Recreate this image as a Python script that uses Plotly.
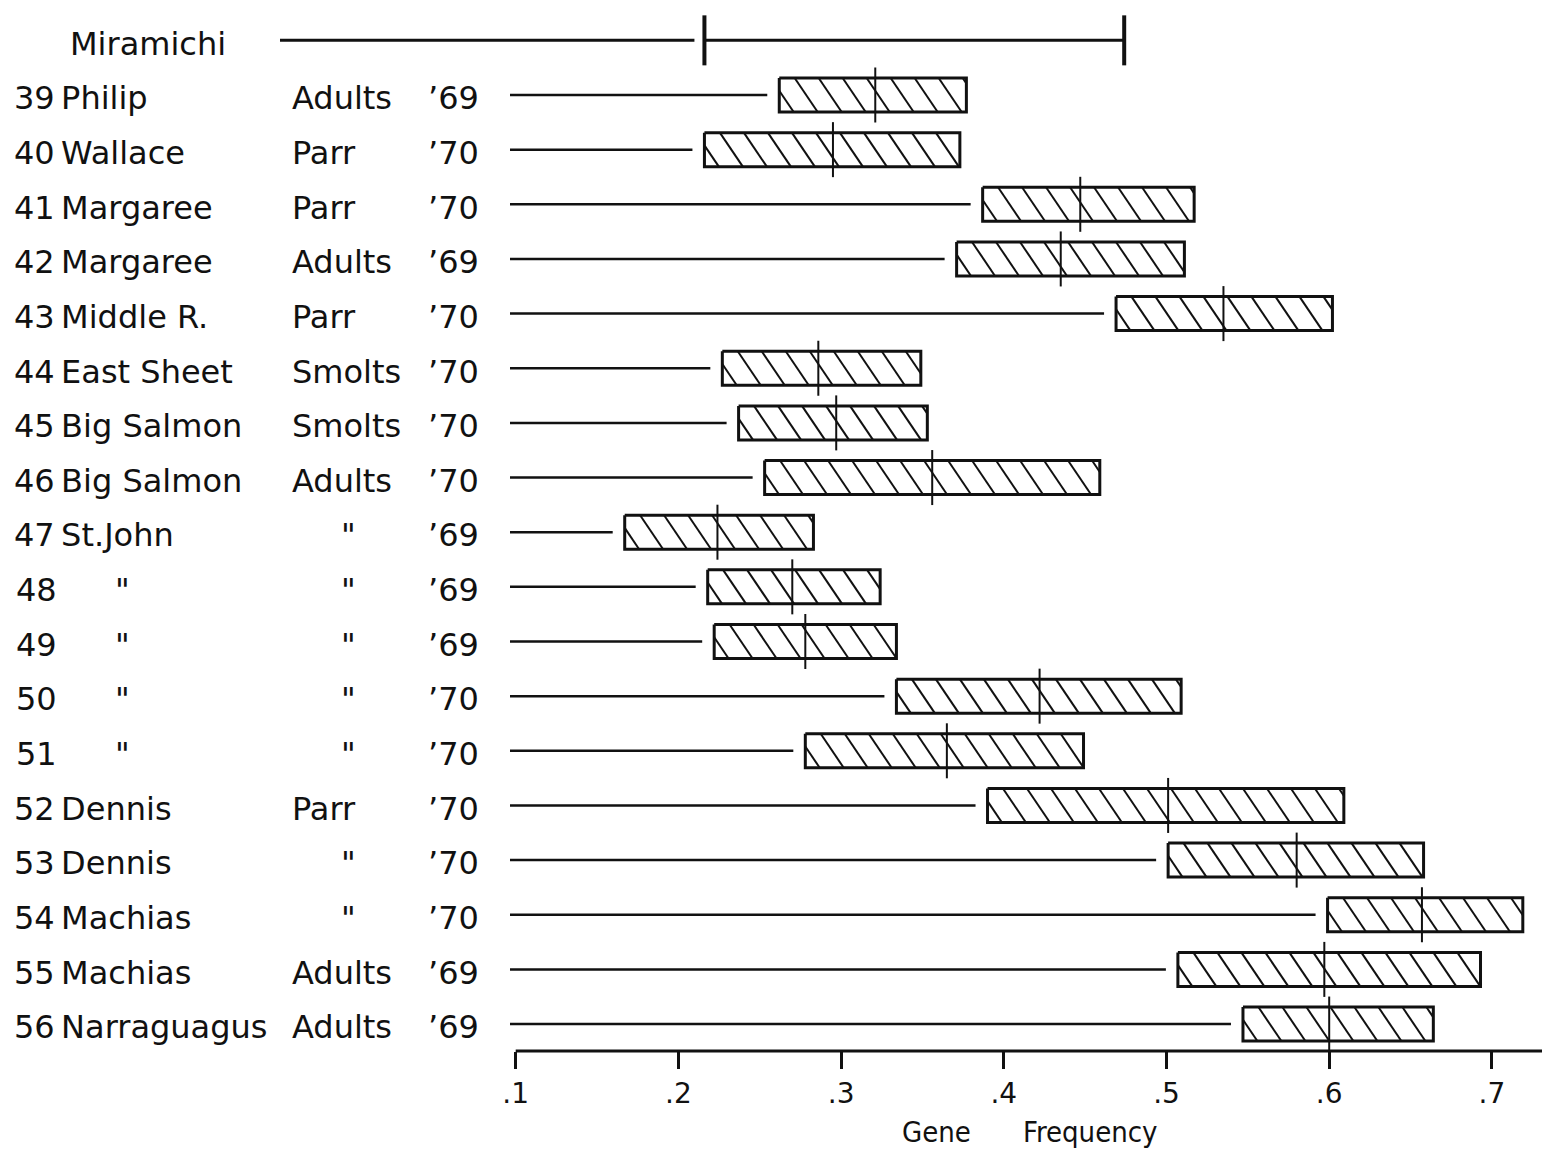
import plotly.graph_objects as go

# ---------------- data ----------------
nums = [39, 40, 41, 42, 43, 44, 45, 46, 47, 48, 49, 50, 51, 52, 53, 54, 55, 56]
names = ["Philip", "Wallace", "Margaree", "Margaree", "Middle R.", "East Sheet",
         "Big Salmon", "Big Salmon", "St.John", '"', '"', '"', '"',
         "Dennis", "Dennis", "Machias", "Machias", "Narraguagus"]
types = ["Adults", "Parr", "Parr", "Adults", "Parr", "Smolts", "Smolts", "Adults",
         '"', '"', '"', '"', '"', "Parr", '"', '"', "Adults", "Adults"]
years = ["’69", "’70", "’70", "’69", "’70", "’70", "’70", "’70", "’69",
         "’69", "’69", "’70", "’70", "’70", "’70", "’70", "’69", "’69"]
low = [0.262, 0.216, 0.387, 0.371, 0.469, 0.227, 0.237, 0.253, 0.167,
       0.218, 0.222, 0.334, 0.278, 0.390, 0.501, 0.599, 0.507, 0.547]
high = [0.377, 0.373, 0.517, 0.511, 0.602, 0.349, 0.353, 0.459, 0.283,
        0.324, 0.334, 0.509, 0.449, 0.609, 0.658, 0.719, 0.693, 0.664]
mean = [0.321, 0.295, 0.447, 0.435, 0.535, 0.286, 0.297, 0.356, 0.224,
        0.270, 0.278, 0.422, 0.365, 0.501, 0.580, 0.657, 0.597, 0.600]

ref_name = "Miramichi"
ref_low = 0.216
ref_high = 0.474

tick_vals = [0.1, 0.2, 0.3, 0.4, 0.5, 0.6, 0.7]
tick_text = [".1", ".2", ".3", ".4", ".5", ".6", ".7"]
x_title_words = ["Gene", "Frequency"]

# ---------------- layout helpers (page pixels) ----------------
PAGE_W, PAGE_H = 1550, 1158
OFF = 8                       # default page margin around the figure
W, H = PAGE_W - OFF, PAGE_H - OFF
PLOT_BOTTOM = 1051            # page pixel of the axis line
X0_PX, X_SCALE = 515.7, 1627  # page pixel of 0.1, pixels per unit
ROW0_PX, ROW_PX = 95, 54.65   # page pixel of first row, pixels per row


def px2x(px):
    return 0.1 + (px - X0_PX) / X_SCALE


def px2py(py):  # paper y
    return (PLOT_BOTTOM - py) / (PLOT_BOTTOM - OFF)


BOX_H = 34 / ROW_PX
MEAN_H = 55 / ROW_PX
TICK_H = 50 / ROW_PX
SPACING = 24 / X_SCALE
SLANT = 23 / X_SCALE
GAP = 12 / X_SCALE
LINE_START = px2x(510)
INK = "#111111"
FONT = "DejaVu Sans"
FS = 32

rows = list(range(len(nums)))

# connectors
cx, cy = [], []
for i, lo in zip(rows, low):
    cx += [LINE_START, lo - GAP, None]
    cy += [i, i, None]

# boxes
bx, by = [], []
for i, lo, hi in zip(rows, low, high):
    t, b = i - BOX_H / 2, i + BOX_H / 2
    bx += [lo, hi, hi, lo, lo, None]
    by += [t, t, b, b, t, None]

# hatching
hx, hy = [], []
for i, lo, hi in zip(rows, low, high):
    top = i - BOX_H / 2
    t = lo - SLANT + SPACING * 0.6
    while t < hi:
        u0 = max(0.0, (lo - t) / SLANT)
        u1 = min(1.0, (hi - t) / SLANT)
        if u1 > u0:
            hx += [t + SLANT * u0, t + SLANT * u1, None]
            hy += [top + BOX_H * u0, top + BOX_H * u1, None]
        t += SPACING

# means
mx, my = [], []
for i, m in zip(rows, mean):
    mx += [m, m, None]
    my += [i - MEAN_H / 2, i + MEAN_H / 2, None]

fig = go.Figure()
fig.add_trace(go.Scatter(x=cx, y=cy, mode="lines", line=dict(color=INK, width=2.5),
                         hoverinfo="skip", showlegend=False))
fig.add_trace(go.Scatter(x=hx, y=hy, mode="lines", line=dict(color=INK, width=2),
                         hoverinfo="skip", showlegend=False))
fig.add_trace(go.Scatter(x=bx, y=by, mode="lines", line=dict(color=INK, width=3),
                         hoverinfo="skip", showlegend=False))
fig.add_trace(go.Scatter(x=mx, y=my, mode="lines", line=dict(color=INK, width=2),
                         hoverinfo="skip", showlegend=False))

# Miramichi reference range
ref_y = -1
fig.add_trace(go.Scatter(x=[px2x(280), ref_low - 10 / X_SCALE, None, ref_low, ref_high],
                         y=[ref_y, ref_y, None, ref_y, ref_y], mode="lines",
                         line=dict(color=INK, width=3), hoverinfo="skip", showlegend=False))
fig.add_trace(go.Scatter(x=[ref_low, ref_low, None, ref_high, ref_high],
                         y=[ref_y - TICK_H / 2, ref_y + TICK_H / 2, None,
                            ref_y - TICK_H / 2, ref_y + TICK_H / 2],
                         mode="lines", line=dict(color=INK, width=4),
                         hoverinfo="skip", showlegend=False))

ann = []
tf = dict(family=FONT, size=FS, color=INK)
TY = 0.06
ann.append(dict(x=px2x(68), y=ref_y + TY, text=ref_name, xanchor="left", yanchor="middle",
                showarrow=False, font=tf))
for i, n, nm, tp, yr in zip(rows, nums, names, types, years):
    if nm == '"':
        ann.append(dict(x=px2x(14), y=i + TY, text=str(n), xanchor="left", yanchor="middle",
                        showarrow=False, font=tf))
        ann.append(dict(x=px2x(122), y=i + TY, text=nm, xanchor="center", yanchor="middle",
                        showarrow=False, font=tf))
    else:
        ann.append(dict(x=px2x(12), y=i + TY, text=f"{n}\u2009{nm}", xanchor="left",
                        yanchor="middle", showarrow=False, font=tf))
    if tp == '"':
        ann.append(dict(x=px2x(348), y=i + TY, text=tp, xanchor="center", yanchor="middle",
                        showarrow=False, font=tf))
    else:
        ann.append(dict(x=px2x(290), y=i + TY, text=tp, xanchor="left", yanchor="middle",
                        showarrow=False, font=tf))
    ann.append(dict(x=px2x(426), y=i + TY, text=yr, xanchor="left", yanchor="middle",
                    showarrow=False, font=tf))

# axis title
title_font = dict(family="DejaVu Sans Condensed", size=29, color=INK)
ann.append(dict(x=px2x(936), y=px2py(1132), xref="x", yref="paper", text=x_title_words[0],
                xanchor="center", yanchor="middle", showarrow=False, font=title_font))
ann.append(dict(x=px2x(1090), y=px2py(1132), xref="x", yref="paper", text=x_title_words[1],
                xanchor="center", yanchor="middle", showarrow=False, font=title_font))

fig.update_layout(
    width=W, height=H,
    margin=dict(l=0, r=0, t=0, b=PAGE_H - PLOT_BOTTOM, pad=0),
    paper_bgcolor="white", plot_bgcolor="white",
    annotations=ann,
    shapes=[dict(type="line", xref="x", yref="paper", x0=0.1, x1=px2x(1545), y0=0, y1=0,
                 line=dict(color=INK, width=3))],
    xaxis=dict(range=[px2x(OFF), px2x(PAGE_W)], showgrid=False, zeroline=False, showline=False,
               tickvals=tick_vals, ticktext=tick_text, ticks="outside", ticklen=17,
               tickwidth=3, tickcolor=INK, tickfont=dict(family=FONT, size=28, color=INK)),
    yaxis=dict(range=[(PLOT_BOTTOM - ROW0_PX) / ROW_PX, (OFF - ROW0_PX) / ROW_PX], visible=False),
    showlegend=False,
)

fig.write_html("out.html", config={"displayModeBar": False})
